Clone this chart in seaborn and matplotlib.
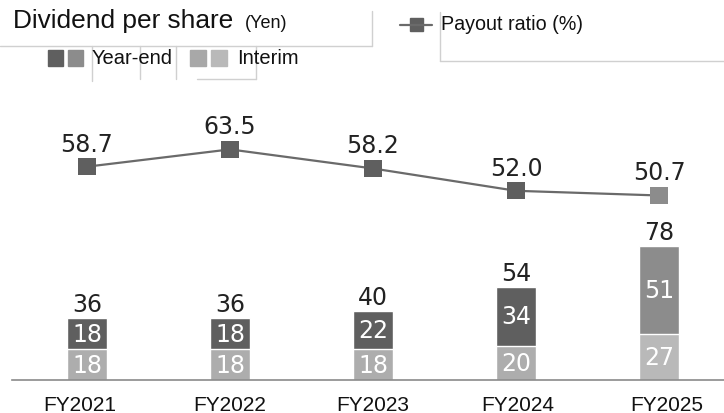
import matplotlib
matplotlib.use("Agg")
import matplotlib.pyplot as plt
import seaborn as sns
import pandas as pd
import numpy as np
from matplotlib.patches import Rectangle
from matplotlib.lines import Line2D

years = ["FY2021", "FY2022", "FY2023", "FY2024", "FY2025"]
interim = [18, 18, 18, 20, 27]
year_end = [18, 18, 22, 34, 51]
totals = [36, 36, 40, 54, 78]
payout = [58.7, 63.5, 58.2, 52.0, 50.7]

ye_colors = ["#5f5f5f", "#5f5f5f", "#5f5f5f", "#5f5f5f", "#8c8c8c"]
in_colors = ["#adadad", "#adadad", "#adadad", "#adadad", "#b9b9b9"]
mk_colors = ["#5f5f5f", "#5f5f5f", "#5f5f5f", "#5f5f5f", "#8c8c8c"]

sns.set_theme(style="white")
plt.rcParams["font.family"] = ["Liberation Sans", "DejaVu Sans"]

W, H = 724, 414
fig = plt.figure(figsize=(W / 100, H / 100), dpi=100)
ax_left, ax_bottom, ax_top = 12, 33, 291 + 33
ax = fig.add_axes([ax_left / W, ax_bottom / H, 1 - ax_left / W, (ax_top - ax_bottom) / H])

df = pd.DataFrame({"year": years, "total": totals, "interim": interim,
                   "year_end": year_end, "payout": payout})

sns.barplot(data=df, x="year", y="total", hue="year", palette=ye_colors,
            width=0.28, legend=False, ax=ax, saturation=1)
sns.barplot(data=df, x="year", y="interim", hue="year", palette=in_colors,
            width=0.28, legend=False, ax=ax, saturation=1)

PX = 1.72  # px per yen
ax.set_ylim(0, 291 / PX)
ax.set_xlim((12 - 87) / 143, (724 - 87) / 143)
for s in ["top", "right", "left"]:
    ax.spines[s].set_visible(False)
ax.spines["bottom"].set_color("#8a8a8a")
ax.spines["bottom"].set_linewidth(1.2)
ax.set_yticks([])
ax.set_xlabel("")
ax.set_ylabel("")
# tick label placement nudges (pixels) as in the original
shift_px = [-7, 0, 0, 2, 8]
ax.set_xticks([i + shift_px[i] / 143 for i in range(len(years))])
ax.set_xticklabels(years)
ax.tick_params(axis="x", length=0, pad=11, labelsize=15, colors="#111111")

lab_font = ["DejaVu Sans"]
LS = 17
for i in range(len(years)):
    ax.text(i, totals[i] + 7 / PX, f"{totals[i]}", ha="center", va="baseline",
            fontsize=LS, color="#222222", family=lab_font)
    ax.text(i, interim[i] / 2, f"{interim[i]}", ha="center", va="center",
            fontsize=LS, color="white", family=lab_font)
    ax.text(i, interim[i] + year_end[i] / 2, f"{year_end[i]}", ha="center",
            va="center", fontsize=LS, color="white", family=lab_font)

ax2 = ax.twinx()
ax2.set_position(ax.get_position())
xs = np.arange(len(years))
sns.lineplot(x=xs, y=payout, ax=ax2, color="#6a6a6a", linewidth=1.6)
sns.scatterplot(x=xs, y=payout, hue=years, palette=mk_colors, marker="s",
                s=150, edgecolor="none", legend=False, ax=ax2, zorder=5)
PP = 3.6  # px per percent
ax2.set_ylim(-2 / PP, -2 / PP + 291 / PP)
ax2.set_xlim(ax.get_xlim())
ax2.set_yticks([])
ax2.set_ylabel("")
for s in ["top", "right", "left", "bottom"]:
    ax2.spines[s].set_visible(False)
for i in range(len(years)):
    ax2.text(xs[i], payout[i] + 16 / PP, f"{payout[i]:.1f}", ha="center",
             va="baseline", fontsize=LS, color="#222222", family=lab_font)

# Header texts
fig.text(13 / W, 1 - 28 / H, "Dividend per share", fontsize=18.9, va="baseline",
         ha="left", color="#111111")
fig.text(245 / W, 1 - 28 / H, "(Yen)", fontsize=13, va="baseline", ha="left",
         color="#111111")

# Legend: Year-end / Interim
def fsq(x, y, w, h, c):
    fig.patches.append(Rectangle((x / W, 1 - (y + h) / H), w / W, h / H,
                                 transform=fig.transFigure, color=c))
fsq(48, 51, 15, 16, "#5f5f5f")
fsq(68, 51, 15, 16, "#8c8c8c")
fig.text(92 / W, 1 - 59 / H, "Year-end", fontsize=14.5, va="center", ha="left", color="#111111")
fsq(190, 51, 16, 16, "#a8a8a8")
fsq(211, 51, 16, 16, "#b9b9b9")
fig.text(237 / W, 1 - 59 / H, "Interim", fontsize=14.5, va="center", ha="left", color="#111111")

# Payout legend
fig.lines.append(Line2D([400 / W, 432 / W], [1 - 25.5 / H, 1 - 25.5 / H],
                        transform=fig.transFigure, color="#6a6a6a", lw=1.6))
fsq(410, 19, 13, 13, "#5f5f5f")
fig.text(441 / W, 1 - 25 / H, "Payout ratio (%)", fontsize=14.2, va="center",
         ha="left", color="#111111")

# faint frame lines from the original
def fl(x0, y0, x1, y1):
    fig.lines.append(Line2D([x0 / W, x1 / W], [1 - y0 / H, 1 - y1 / H],
                            transform=fig.transFigure, color="#d0d0d0", lw=1))
fl(0, 47, 372, 47)
fl(372, 12, 372, 47)
fl(440, 13, 440, 62)
fl(440, 62, 724, 62)
fl(92, 47, 92, 82)
fl(140, 47, 140, 80)
fl(176, 47, 176, 80)
fl(197, 80, 256, 80)
fl(256, 47, 256, 80)

fig.savefig("out.png", dpi=100)
